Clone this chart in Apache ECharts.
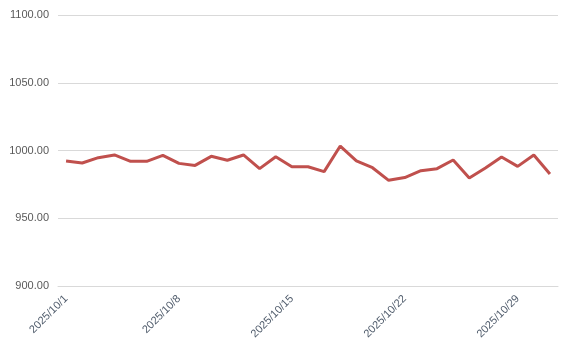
<!DOCTYPE html>
<html>
<head>
<meta charset="utf-8">
<script src="https://cdn.jsdelivr.net/npm/echarts@6/dist/echarts.min.js"></script>
<style>html,body{margin:0;padding:0;background:#fff;}#c{width:572px;height:357px;}</style>
</head>
<body>
<div id="c"></div>
<script>
const categories = [];
for (let d = 1; d <= 31; d++) categories.push('2025/10/' + d);
const values = [992.3, 990.8, 994.7, 996.7, 992.0, 992.0, 996.4, 990.5, 989.0, 995.7,
  992.8, 996.7, 986.6, 995.4, 988.0, 988.0, 984.4, 1003.3, 992.3, 987.3,
  978.0, 980.0, 985.1, 986.6, 993.0, 979.7, 987.1, 995.2, 988.3, 996.7, 982.7];
const yMin = 900, yMax = 1100, yStep = 50;

const chart = echarts.init(document.getElementById('c'));
chart.setOption({
  animation: false,
  grid: { left: 58, right: 14, top: 15, bottom: 71, containLabel: false },
  xAxis: {
    type: 'category',
    data: categories,
    boundaryGap: true,
    axisLine: { lineStyle: { color: '#d9d9d9' } },
    axisTick: { interval: 6, length: 5, lineStyle: { color: '#c8c8c8' } },
    axisLabel: { interval: 6, rotate: 45, color: '#4f5b6b', fontSize: 11, fontFamily: 'Liberation Sans, Arial, sans-serif', margin: 11 }
  },
  yAxis: {
    type: 'value',
    min: yMin, max: yMax, interval: yStep,
    axisLine: { show: false },
    axisTick: { show: false },
    splitLine: { lineStyle: { color: '#d9d9d9' } },
    axisLabel: { color: '#595959', fontSize: 11, fontFamily: 'Liberation Sans, Arial, sans-serif', margin: 9, formatter: v => v.toFixed(2) }
  },
  series: [{
    type: 'line',
    data: values,
    showSymbol: false,
    lineStyle: { color: '#c0504d', width: 3 },
    itemStyle: { color: '#c0504d' }
  }]
});
</script>
</body>
</html>
